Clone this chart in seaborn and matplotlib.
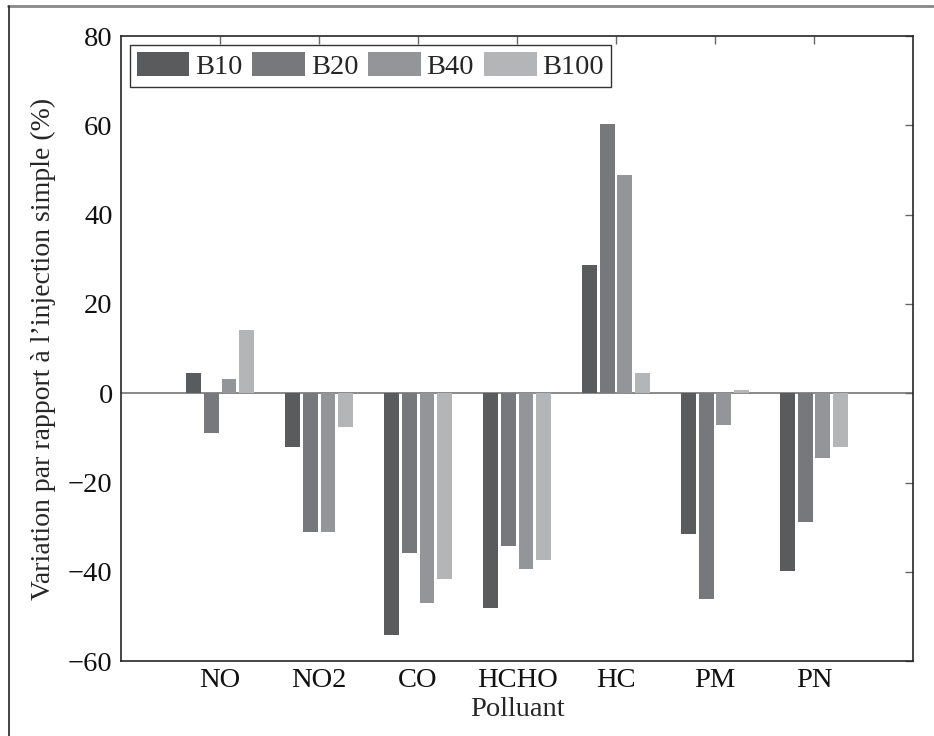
import seaborn as sns
import matplotlib.pyplot as plt
import pandas as pd
from matplotlib.lines import Line2D

# data
pollutants = ["NO", "NO2", "CO", "HCHO", "HC", "PM", "PN"]
series = ["B10", "B20", "B40", "B100"]
b10 = [4.5, -12.0, -54.1, -48.0, 28.7, -31.6, -39.8]
b20 = [-8.8, -31.0, -35.7, -34.1, 60.2, -46.1, -28.9]
b40 = [3.2, -31.0, -46.9, -39.4, 48.9, -7.2, -14.4]
b100 = [14.2, -7.5, -41.5, -37.4, 4.6, 0.7, -12.1]
yticks = [-60, -40, -20, 0, 20, 40, 60, 80]

colors = ["#5a5b5d", "#77787b", "#949598", "#b4b5b7"]

df = pd.DataFrame({
    "Polluant": pollutants * 4,
    "Serie": sum([[s] * len(pollutants) for s in series], []),
    "Valeur": b10 + b20 + b40 + b100,
})

sns.set_style("white")
plt.rcParams["font.family"] = ["Liberation Serif", "DejaVu Serif"]
plt.rcParams["font.size"] = 20

fig = plt.figure(figsize=(9.34, 7.36), dpi=100)
ax = fig.add_axes([0.1296, 0.1016, 0.8479, 0.8494])

ax.axhline(0, color="#808080", lw=1.3, zorder=0)
sns.barplot(data=df, x="Polluant", y="Valeur", hue="Serie", order=pollutants,
            hue_order=series, palette=colors, width=0.72, gap=0.167,
            saturation=1, linewidth=0, legend=False, ax=ax, zorder=2)

ax.set_xlim(-1, 7)
ax.set_ylim(-60, 80)
ax.set_yticks(yticks)
ax.set_xlabel("Polluant", fontsize=20.5, labelpad=3)
ax.set_ylabel("Variation par rapport à l\u2019injection simple (%)", fontsize=20, labelpad=9)

ax.tick_params(direction="in", length=6, width=1, color="#666666",
               top=True, right=True, labelsize=20.5, labelcolor="#111111")
ax.tick_params(axis="y", pad=6)
ax.tick_params(axis="x", pad=5)
for sp in ax.spines.values():
    sp.set_visible(True)
    sp.set_color("#262626")
    sp.set_linewidth(1.2)

leg = ax.legend(ax.containers, series, loc="upper left", ncol=4,
                frameon=True, fancybox=False, edgecolor="black",
                fontsize=20.5, handlelength=1.85, handleheight=0.92,
                handletextpad=0.2, columnspacing=0.35, borderpad=0.25,
                borderaxespad=0.3)
leg.get_frame().set_linewidth(1.0)

# outer frame lines (top and left only)
fig.add_artist(Line2D([0.009, 0.999], [0.992, 0.992], transform=fig.transFigure,
                      color="#888888", lw=2))
fig.add_artist(Line2D([0.01, 0.01], [0.0, 0.992], transform=fig.transFigure,
                      color="#222222", lw=1.2))

fig.savefig("out.png", dpi=100)
